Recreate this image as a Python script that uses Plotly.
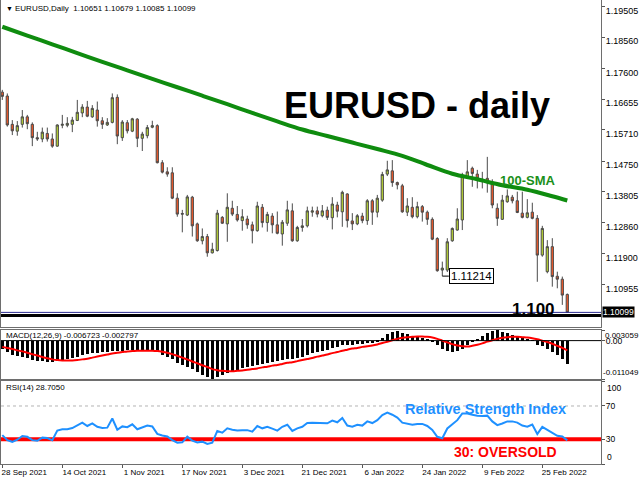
import pandas as pd
import plotly.graph_objects as go

# ---------------- data ----------------
dates = pd.bdate_range("2021-09-28", periods=114).strftime("%Y-%m-%d").tolist()

opens = [1.1687,1.1675,1.1588,1.1567,1.1588,1.1611,1.1588,1.1547,1.1543,1.1560,
         1.1543,1.1521,1.1585,1.1585,1.1588,1.1600,1.1623,1.1641,1.1611,1.1632,
         1.1599,1.1586,1.1594,1.1671,1.1547,1.1593,1.1567,1.1604,1.1545,1.1553,
         1.1579,1.1584,1.1470,1.1442,1.1439,1.1361,1.1314,1.1309,1.1364,1.1282,
         1.1230,1.1243,1.1193,1.1200,1.1302,1.1282,1.1330,1.1311,1.1292,1.1297,
         1.1279,1.1261,1.1333,1.1286,1.1306,1.1279,1.1251,1.1284,1.1322,1.1230,
         1.1271,1.1276,1.1318,1.1322,1.1307,1.1324,1.1301,1.1340,1.1319,1.1374,
         1.1291,1.1282,1.1306,1.1292,1.1353,1.1318,1.1355,1.1435,1.1445,1.1409,
         1.1399,1.1318,1.1333,1.1304,1.1335,1.1318,1.1296,1.1237,1.1140,1.1140,
         1.1230,1.1263,1.1294,1.1427,1.1453,1.1435,1.1419,1.1422,1.1411,1.1330,
         1.1296,1.1350,1.1364,1.1353,1.1315,1.1302,1.1318,1.1299,1.1186,1.1135,
         1.1212,1.1121,1.1112,1.10651]
highs = [1.1694,1.1683,1.1601,1.1598,1.1632,1.1617,1.1594,1.1565,1.1578,1.1578,
         1.1560,1.1588,1.1617,1.1610,1.1611,1.1663,1.1650,1.1660,1.1647,1.1658,
         1.1610,1.1607,1.1683,1.1680,1.1601,1.1601,1.1608,1.1607,1.1565,1.1586,
         1.1599,1.1588,1.1478,1.1456,1.1456,1.1376,1.1325,1.1371,1.1368,1.1286,
         1.1268,1.1251,1.1224,1.1325,1.1306,1.1376,1.1353,1.1337,1.1327,1.1307,
         1.1289,1.1350,1.1343,1.1319,1.1315,1.1320,1.1294,1.1353,1.1345,1.1276,
         1.1297,1.1335,1.1335,1.1335,1.1340,1.1335,1.1364,1.1350,1.1384,1.1376,
         1.1315,1.1312,1.1316,1.1358,1.1358,1.1371,1.1442,1.1476,1.1478,1.1412,
         1.1405,1.1361,1.1364,1.1350,1.1340,1.1323,1.1302,1.1241,1.1166,1.1238,
         1.1271,1.1330,1.1439,1.1478,1.1458,1.1448,1.1442,1.1488,1.1419,1.1345,
         1.1371,1.1388,1.1371,1.1381,1.1381,1.1358,1.1347,1.1309,1.1276,1.1232,
         1.1238,1.1135,1.1120,1.10679]
lows = [1.1663,1.1581,1.1555,1.1553,1.1578,1.1573,1.1521,1.1537,1.1533,1.1535,
        1.1516,1.1519,1.1576,1.1579,1.1564,1.1598,1.1610,1.1610,1.1608,1.1581,
        1.1574,1.1583,1.1591,1.1527,1.1537,1.1560,1.1564,1.1518,1.1506,1.1545,
        1.1576,1.1468,1.1437,1.1427,1.1358,1.1304,1.1256,1.1306,1.1243,1.1227,
        1.1219,1.1181,1.1191,1.1197,1.1282,1.1227,1.1306,1.1289,1.1261,1.1267,
        1.1222,1.1258,1.1271,1.1258,1.1253,1.1250,1.1215,1.1276,1.1227,1.1227,
        1.1258,1.1271,1.1304,1.1302,1.1302,1.1294,1.1265,1.1302,1.1273,1.1271,
        1.1263,1.1278,1.1284,1.1279,1.1279,1.1302,1.1350,1.1429,1.1396,1.1388,
        1.1316,1.1306,1.1299,1.1299,1.1289,1.1279,1.1232,1.1135,1.11214,1.1134,
        1.1227,1.1261,1.1263,1.1425,1.1396,1.1391,1.1391,1.1378,1.1330,1.1276,
        1.1294,1.1347,1.1345,1.1315,1.1299,1.1299,1.1296,1.1104,1.1181,1.1130,
        1.1089,1.1084,1.1033,1.10085]
closes = [1.1674,1.1586,1.1568,1.1584,1.1611,1.1590,1.1547,1.1543,1.1564,1.1543,
          1.1521,1.1586,1.1588,1.1591,1.1601,1.1625,1.1641,1.1613,1.1637,1.1599,
          1.1588,1.1594,1.1670,1.1552,1.1595,1.1568,1.1605,1.1545,1.1558,1.1578,
          1.1584,1.1470,1.1441,1.1435,1.1361,1.1312,1.1312,1.1365,1.1276,1.1230,
          1.1243,1.1193,1.1204,1.1315,1.1284,1.1333,1.1312,1.1294,1.1304,1.1279,
          1.1261,1.1337,1.1286,1.1311,1.1279,1.1253,1.1287,1.1325,1.1230,1.1271,
          1.1276,1.1322,1.1322,1.1312,1.1322,1.1302,1.1343,1.1321,1.1379,1.1292,
          1.1282,1.1307,1.1292,1.1353,1.1318,1.1361,1.1434,1.1448,1.1409,1.1402,
          1.1319,1.1337,1.1304,1.1335,1.1318,1.1296,1.1235,1.1138,1.1146,1.1227,
          1.1268,1.1297,1.1432,1.1442,1.1437,1.1422,1.1412,1.1413,1.1340,1.1299,
          1.1355,1.1368,1.1353,1.1317,1.1302,1.1316,1.1299,1.1186,1.1268,1.1212,
          1.1120,1.1112,1.1063,1.10099]

sma_idx = [0,5,10,15,20,25,30,35,40,45,50,55,60,65,70,75,80,85,90,95,100,105,110,113]
sma_val = [1.1888,1.1861,1.1834,1.1807,1.1780,1.1754,1.1728,1.1702,1.1676,1.1650,
           1.1623,1.1597,1.1572,1.1552,1.1532,1.1512,1.1491,1.1463,1.1436,1.1419,
           1.1401,1.1387,1.1367,1.1354]

macd_main = [-0.0025,-0.0033,-0.0040,-0.0045,-0.0048,-0.0051,-0.0055,-0.0058,-0.0060,-0.0061,
             -0.0062,-0.0059,-0.0056,-0.0053,-0.0050,-0.0046,-0.0041,-0.0039,-0.0036,-0.0035,
             -0.0034,-0.0033,-0.0029,-0.0030,-0.0029,-0.0028,-0.0027,-0.0029,-0.0030,-0.0029,
             -0.0028,-0.0034,-0.0040,-0.0046,-0.0054,-0.0063,-0.0070,-0.0075,-0.0083,-0.0091,
             -0.0098,-0.0106,-0.0110,-0.0104,-0.0099,-0.0093,-0.0088,-0.0084,-0.0080,-0.0077,
             -0.0074,-0.0069,-0.0066,-0.0063,-0.0061,-0.0060,-0.0057,-0.0052,-0.0052,-0.0049,
             -0.0046,-0.0040,-0.0036,-0.0032,-0.0029,-0.0026,-0.0022,-0.0019,-0.0014,-0.0013,
             -0.0013,-0.0011,-0.0010,-0.0007,-0.0006,-0.0003,0.0008,0.0018,0.0024,0.0027,
             0.0022,0.0018,0.0013,0.0011,0.0008,0.0004,-0.0003,-0.0014,-0.0025,-0.0030,
             -0.0032,-0.0030,-0.0023,-0.0012,-0.0002,0.0006,0.0014,0.0022,0.0027,0.0030,
             0.0026,0.0022,0.0017,0.0012,0.0008,0.0004,0.0001,-0.0012,-0.0016,-0.0023,
             -0.0032,-0.0042,-0.0054,-0.006723]
macd_signal = [-0.0018,-0.0021,-0.0024,-0.0028,-0.0031,-0.0035,-0.0039,-0.0043,-0.0047,-0.0051,
               -0.0054,-0.0056,-0.0057,-0.0057,-0.0057,-0.0056,-0.0054,-0.0052,-0.0049,-0.0046,
               -0.0043,-0.0040,-0.0037,-0.0035,-0.0033,-0.0031,-0.0030,-0.0029,-0.0029,-0.0029,
               -0.0029,-0.0030,-0.0032,-0.0035,-0.0039,-0.0044,-0.0049,-0.0054,-0.0060,-0.0065,
               -0.0071,-0.0076,-0.0082,-0.0085,-0.0087,-0.0088,-0.0088,-0.0087,-0.0086,-0.0084,
               -0.0082,-0.0080,-0.0077,-0.0075,-0.0072,-0.0070,-0.0067,-0.0064,-0.0062,-0.0059,
               -0.0056,-0.0053,-0.0050,-0.0046,-0.0043,-0.0040,-0.0036,-0.0033,-0.0029,-0.0026,
               -0.0023,-0.0021,-0.0018,-0.0016,-0.0014,-0.0011,-0.0007,-0.0003,0.0001,0.0005,
               0.0008,0.0010,0.0011,0.0012,0.0012,0.0011,0.0009,0.0005,0.0000,-0.0005,
               -0.0010,-0.0014,-0.0016,-0.0017,-0.0015,-0.0012,-0.0008,-0.0003,0.0001,0.0005,
               0.0008,0.0010,0.0011,0.0011,0.0010,0.0009,0.0007,0.0004,0.0000,-0.0004,
               -0.0009,-0.0015,-0.0021,-0.002797]

rsi = [35.0,29.0,27.0,29.5,34.0,33.0,29.0,28.3,32.0,31.5,
       28.8,40.4,42.0,42.0,43.5,46.5,50.0,46.0,49.2,45.0,
       43.5,44.0,55.0,41.5,45.5,44.5,48.0,42.0,44.5,46.5,
       45.5,36.5,34.5,33.3,29.0,26.0,26.4,33.2,28.5,26.2,
       27.2,24.4,26.0,40.0,38.0,43.2,41.5,40.6,40.8,41.0,
       39.2,46.0,43.2,45.0,42.8,40.5,45.0,47.5,40.0,43.2,
       45.0,49.5,50.0,49.8,49.2,49.2,52.4,50.4,55.5,46.5,
       45.2,47.5,46.5,51.5,49.5,53.0,59.0,62.0,59.5,56.0,
       50.0,49.0,47.5,48.5,48.5,46.0,41.3,33.0,31.2,43.0,
       47.5,53.0,61.0,61.0,59.4,58.2,58.0,58.4,51.5,47.0,
       49.0,51.5,51.5,50.0,46.5,45.2,47.8,36.4,45.0,41.5,
       37.0,34.2,33.3,28.705]

price_ticks = [1.19505,1.18560,1.17600,1.16655,1.15710,1.14750,1.13805,1.12860,1.11900,1.10955]
date_tick_idx = [0,12,24,36,48,60,72,84,96,108]
date_tick_text = ["28 Sep 2021","14 Oct 2021","1 Nov 2021","17 Nov 2021","3 Dec 2021",
                  "21 Dec 2021","6 Jan 2022","24 Jan 2022","9 Feb 2022","25 Feb 2022"]
level_price = 1.100
last_price = 1.10099
swing_low = 1.11214
macd_max, macd_min = 0.003059, -0.011049

# ---------------- figure ----------------
W, H = 640, 480
def py(px):  # pixel-from-top -> paper y
    return 1 - px / H
XD = [1 / W, 601 / W]
FONT = "Liberation Sans, Arial, sans-serif"
FRAME = "#6e6e6e"

fig = go.Figure()
fig.add_trace(go.Candlestick(
    x=dates, open=opens, high=highs, low=lows, close=closes,
    increasing=dict(line=dict(color="#4a4a4a", width=1), fillcolor="#b8d435"),
    decreasing=dict(line=dict(color="#4a4a4a", width=1), fillcolor="#f0592a"),
    whiskerwidth=0, xaxis="x", yaxis="y", hoverinfo="skip"))
fig.add_trace(go.Scatter(x=[dates[i] for i in sma_idx], y=sma_val, mode="lines",
                         line=dict(color="#0f8c0f", width=4, shape="spline"),
                         xaxis="x", yaxis="y", hoverinfo="skip"))
fig.add_trace(go.Bar(x=dates, y=macd_main, marker=dict(color="black", line=dict(width=0)),
                     width=0.62, xaxis="x2", yaxis="y2", hoverinfo="skip"))
fig.add_trace(go.Scatter(x=dates, y=macd_signal, mode="lines",
                         line=dict(color="#ff0000", width=2, shape="spline"),
                         xaxis="x2", yaxis="y2", hoverinfo="skip"))
fig.add_trace(go.Scatter(x=dates, y=rsi, mode="lines",
                         line=dict(color="#1e90ff", width=2),
                         xaxis="x3", yaxis="y3", hoverinfo="skip"))

xr = [-0.26, 119.74]
xcommon = dict(type="category", range=xr, domain=XD, showgrid=False, zeroline=False,
               showline=True, mirror=True, linecolor=FRAME, linewidth=1, fixedrange=True)
ycommon = dict(side="right", showgrid=False, zeroline=False, showline=True, mirror=True,
               linecolor=FRAME, linewidth=1, ticks="outside", ticklen=3, tickcolor="#555",
               tickfont=dict(size=8.5, color="black", family=FONT), fixedrange=True,
               ticklabeloverflow="allow", ticklabelstandoff=-1)

fig.update_layout(
    width=W, height=H, margin=dict(l=0, r=0, t=0, b=0),
    paper_bgcolor="white", plot_bgcolor="white", showlegend=False,
    font=dict(family=FONT, size=8, color="black"), boxgap=0.36, bargap=0,
    xaxis=dict(xcommon, anchor="y", showticklabels=False, ticks=""),
    xaxis2=dict(xcommon, anchor="y2", matches="x", showticklabels=False, ticks=""),
    xaxis3=dict(xcommon, anchor="y3", matches="x", ticks="outside", ticklen=3, tickcolor="#555",
                tickvals=[dates[i] for i in date_tick_idx], ticktext=date_tick_text,
                tickangle=0, ticklabelshift=22, ticklabelstandoff=-3,
                ticklabeloverflow="allow",
                tickfont=dict(size=8, color="black", family=FONT)),
    yaxis=dict(ycommon, anchor="x", domain=[py(327), 1], range=[1.09650, 1.19702],
               tickvals=price_ticks, ticktext=[f"{v:.5f}" for v in price_ticks],
               ticklabelshift=4, tickfont=dict(size=9, color="black", family=FONT)),
    yaxis2=dict(ycommon, anchor="x2", domain=[py(379), py(330)], range=[macd_min, macd_max],
                tickvals=[macd_max, 0, macd_min], ticktext=["", "0.00", ""]),
    yaxis3=dict(ycommon, anchor="x3", domain=[py(464.3), py(381)], range=[0, 100],
                tickvals=[0, 30, 70, 100], ticktext=["", "30", "70", ""]),
    xaxis_rangeslider_visible=False,
)

shapes = [
    dict(type="line", xref="paper", x0=XD[0], x1=XD[1], yref="y3", y0=70, y1=70,
         line=dict(color="#b4b4b4", width=1, dash="dot"), layer="below"),
    dict(type="line", xref="paper", x0=XD[0], x1=XD[1], yref="y3", y0=30, y1=30,
         line=dict(color="#ff0000", width=4), layer="below"),
    dict(type="line", xref="paper", x0=XD[0], x1=XD[1], yref="y2", y0=0, y1=0,
         line=dict(color="black", width=1)),
    dict(type="line", xref="paper", x0=XD[0], x1=XD[1], yref="y", y0=last_price, y1=last_price,
         line=dict(color="#2a2a90", width=1)),
    dict(type="line", xref="paper", x0=XD[0], x1=XD[1], yref="y", y0=level_price, y1=level_price,
         line=dict(color="black", width=3)),
    dict(type="line", xref="x", x0=88, x1=89.3, yref="y", y0=swing_low, y1=swing_low,
         line=dict(color="black", width=1)),
]
fig.update_layout(shapes=shapes)

AX_X = 605 / W
ann = [
    dict(text="▼", x=4 / W, y=py(8), xanchor="left", yanchor="middle", font=dict(size=7)),
    dict(text="EURUSD,Daily  1.10651 1.10679 1.10085 1.10099", x=13 / W, y=py(8),
         xanchor="left", yanchor="middle", font=dict(size=8)),
    dict(text="MACD(12,26,9) -0.006723 -0.002797", x=4 / W, y=py(335.5),
         xanchor="left", yanchor="middle", font=dict(size=8)),
    dict(text="RSI(14) 28.7050", x=4 / W, y=py(387), xanchor="left", yanchor="middle",
         font=dict(size=8)),
    dict(text="<b>EURUSD - daily</b>", x=417 / W, y=py(105), xanchor="center", yanchor="middle",
         font=dict(size=36, color="black")),
    dict(text="<b>100-SMA</b>", x=528 / W, y=py(180), xanchor="center", yanchor="middle",
         font=dict(size=13, color="#1a901a")),
    dict(text="<b>1.100</b>", x=533 / W, y=py(309), xanchor="center", yanchor="middle",
         font=dict(size=17, color="black")),
    dict(text="1.11214", xref="x", x=89.3, yref="y", y=swing_low, xanchor="left",
         yanchor="middle", font=dict(size=11.5, color="black"), bgcolor="white",
         bordercolor="black", borderwidth=1, borderpad=1),
    dict(text="<b>Relative Strength Index</b>", x=485 / W, y=py(408.5), xanchor="center",
         yanchor="middle", font=dict(size=14.5, color="#1e90ff")),
    dict(text="<b>30: OVERSOLD</b>", x=505 / W, y=py(451.5), xanchor="center",
         yanchor="middle", font=dict(size=14, color="#ff0000")),
    dict(text="0.003059", x=603 / W, yref="y2", y=macd_max, xanchor="left", yanchor="top",
         yshift=1, font=dict(size=8)),
    dict(text="-0.011049", x=601 / W, yref="y2", y=macd_min, xanchor="left", yanchor="bottom",
         font=dict(size=8)),
    dict(text="100", x=AX_X, yref="y3", y=100, xanchor="left", yanchor="top", font=dict(size=8.5)),
    dict(text="0", x=AX_X, yref="y3", y=0, xanchor="left", yanchor="bottom", font=dict(size=8.5)),
    dict(text="1.10099", x=602 / W, yref="y", y=last_price, xanchor="left", yanchor="middle",
         font=dict(size=8.5, color="white"), bgcolor="black", borderpad=0),
]
for a in ann:
    a.setdefault("xref", "paper")
    a.setdefault("yref", "paper")
    a["showarrow"] = False
fig.update_layout(annotations=ann)

fig.write_html("out.html", include_plotlyjs=True, config={"displayModeBar": False},
               post_script="document.body.style.margin='0';document.body.style.overflow='hidden';")
